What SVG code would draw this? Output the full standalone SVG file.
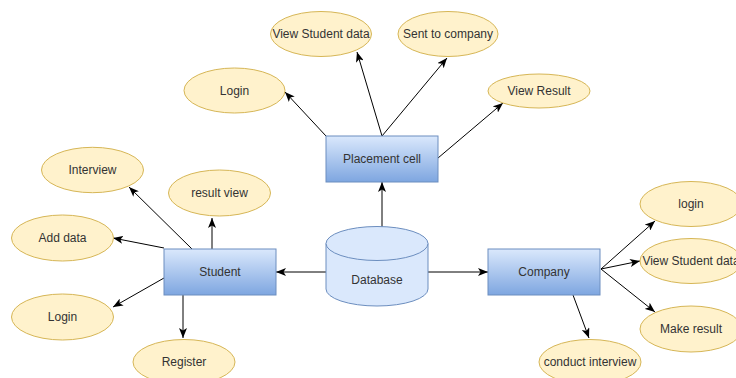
<svg xmlns="http://www.w3.org/2000/svg" width="736" height="378" viewBox="0 0 736 378">
<defs>
<linearGradient id="blue" x1="0" y1="0" x2="0" y2="1">
<stop offset="0" stop-color="#dae8fc"/>
<stop offset="1" stop-color="#7ea6e0"/>
</linearGradient>
<marker id="arr" viewBox="0 0 10 8" refX="10" refY="4" markerWidth="10" markerHeight="8" markerUnits="userSpaceOnUse" orient="auto">
<path d="M0,0 L10,4 L0,8 L2.5,4 Z" fill="#000"/>
</marker>
</defs>
<style>
.el{fill:#fff2cc;stroke:#d6b656;stroke-width:1}
.box{fill:url(#blue);stroke:#6c8ebf;stroke-width:1}
.cyl{fill:#dae8fc;stroke:#6c8ebf;stroke-width:1}
text{font-family:"Liberation Sans",Arial,sans-serif;font-size:12px;fill:#333;text-anchor:middle;dominant-baseline:central}
.ln{stroke:#000;stroke-width:1;fill:none;marker-end:url(#arr)}
</style>
<rect width="736" height="378" fill="#fff"/>
<g id="connectors">
<line class="ln" x1="326" y1="136" x2="285" y2="92"/>
<line class="ln" x1="382" y1="136" x2="357" y2="52"/>
<line class="ln" x1="382" y1="136" x2="447" y2="58"/>
<line class="ln" x1="438" y1="158" x2="503" y2="103"/>
<line class="ln" x1="382" y1="227" x2="382" y2="182"/>
<line class="ln" x1="326" y1="272" x2="276" y2="272"/>
<line class="ln" x1="428" y1="272" x2="488" y2="272"/>
<line class="ln" x1="192" y1="249" x2="129" y2="187"/>
<line class="ln" x1="212" y1="249" x2="212" y2="218"/>
<line class="ln" x1="164" y1="248" x2="113" y2="238"/>
<line class="ln" x1="164" y1="278" x2="113" y2="307"/>
<line class="ln" x1="183" y1="295" x2="183" y2="338"/>
<line class="ln" x1="601" y1="269" x2="655" y2="221"/>
<line class="ln" x1="601" y1="269" x2="640" y2="261"/>
<line class="ln" x1="601" y1="269" x2="655" y2="312"/>
<line class="ln" x1="573" y1="295" x2="589" y2="338"/>
</g>
<g id="placement">
<rect class="box" x="326" y="136" width="112" height="46"/>
<text x="382" y="159">Placement cell</text>
</g>
<g id="database">
<path class="cyl" d="M326,243.5 A51,17 0 0 1 428,243.5 L428,289 A51,17 0 0 1 326,289 Z"/>
<path class="cyl" d="M326,243.5 A51,17 0 0 0 428,243.5" fill="none"/>
<text x="377" y="280">Database</text>
</g>
<g id="student">
<rect class="box" x="164" y="249" width="112" height="46"/>
<text x="220" y="272">Student</text>
</g>
<g id="company">
<rect class="box" x="488" y="249" width="112" height="46"/>
<text x="544" y="272">Company</text>
</g>
<g id="pc-login"><ellipse class="el" cx="234.5" cy="90.5" rx="50.5" ry="22.5"/><text x="234.5" y="90.5">Login</text></g>
<g id="pc-view-student"><ellipse class="el" cx="321" cy="34" rx="50.5" ry="22.5"/><text x="321" y="34">View Student data</text></g>
<g id="pc-sent"><ellipse class="el" cx="448" cy="34" rx="50" ry="22.5"/><text x="448" y="34">Sent to company</text></g>
<g id="pc-view-result"><ellipse class="el" cx="539" cy="91" rx="51" ry="17"/><text x="539" y="91">View Result</text></g>
<g id="st-interview"><ellipse class="el" cx="92.5" cy="170" rx="51" ry="22.7"/><text x="92.5" y="170">Interview</text></g>
<g id="st-result-view"><ellipse class="el" cx="219.5" cy="193" rx="51" ry="23"/><text x="219.5" y="193">result view</text></g>
<g id="st-add-data"><ellipse class="el" cx="62.5" cy="238" rx="51" ry="23"/><text x="62.5" y="238">Add data</text></g>
<g id="st-login"><ellipse class="el" cx="62.5" cy="317" rx="51" ry="23"/><text x="62.5" y="317">Login</text></g>
<g id="st-register"><ellipse class="el" cx="184" cy="362" rx="51" ry="22.5"/><text x="184" y="362">Register</text></g>
<g id="co-login"><ellipse class="el" cx="691" cy="204" rx="51" ry="22.5"/><text x="691" y="204">login</text></g>
<g id="co-view-student"><ellipse class="el" cx="691" cy="261" rx="51" ry="22.5"/><text x="691" y="261">View Student data</text></g>
<g id="co-make-result"><ellipse class="el" cx="691" cy="329" rx="51" ry="23"/><text x="691" y="329">Make result</text></g>
<g id="co-conduct"><ellipse class="el" cx="590" cy="362" rx="51" ry="22.5"/><text x="590" y="362">conduct interview</text></g>
</svg>
